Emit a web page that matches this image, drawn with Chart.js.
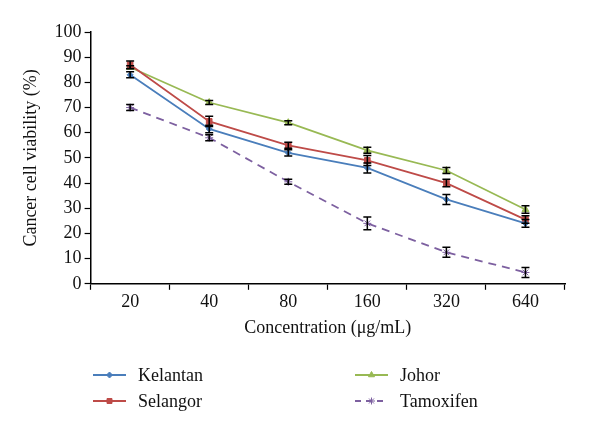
<!DOCTYPE html>
<html>
<head>
<meta charset="utf-8">
<script src="https://cdn.jsdelivr.net/npm/chart.js@4.4.1/dist/chart.umd.min.js"></script>
<style>
  body { margin: 0; background: #fff; }
</style>
</head>
<body>
<canvas id="chart" width="600" height="435"></canvas>
<script>
// Cancer cell viability vs. concentration
const categories = ['20', '40', '80', '160', '320', '640'];

const kelantan  = [83, 61.5, 52, 46, 33.5, 24];
const selangor  = [87, 64.5, 55, 49, 40, 25.5];
const johor     = [86, 72, 64, 53, 45, 29.5];
const tamoxifen = [70, 58, 40.5, 24, 12.5, 4.5];

const kelantanErr  = [1.2, 1.5, 1.2, 2, 2, 1.5];
const selangorErr  = [1.5, 2, 1.2, 2, 1.5, 1.5];
const johorErr     = [0.6, 0.8, 0.8, 1.2, 1.2, 1.5];
const tamoxifenErr = [1.2, 1.2, 1, 2.5, 2, 2];

const yTicks = [0, 10, 20, 30, 40, 50, 60, 70, 80, 90, 100];

const SERIES = [
  { label: 'Kelantan',  data: kelantan,  err: kelantanErr,  color: '#4A7EBB', point: 'rectRot',  radius: 3, dash: [] },
  { label: 'Selangor',  data: selangor,  err: selangorErr,  color: '#BE4B48', point: 'rect',     radius: 4, dash: [] },
  { label: 'Johor',     data: johor,     err: johorErr,     color: '#98B954', point: 'triangle', radius: 4, dash: [] },
  { label: 'Tamoxifen', data: tamoxifen, err: tamoxifenErr, color: '#7D60A0', point: 'star',     radius: 4, dash: [8, 6] },
];

const FONT_FAMILY = '"Liberation Serif", "Times New Roman", serif';
const font = { family: FONT_FAMILY, size: 18 };

// error bars drawn through the scales
const errorBars = {
  id: 'errorBars',
  afterDatasetsDraw(chart) {
    const { ctx, scales: { x, y } } = chart;
    ctx.save();
    ctx.strokeStyle = '#000';
    ctx.lineWidth = 1.5;
    SERIES.forEach(s => {
      s.data.forEach((v, i) => {
        const px = x.getPixelForValue(i);
        const top = y.getPixelForValue(v + s.err[i]);
        const bot = y.getPixelForValue(v - s.err[i]);
        ctx.beginPath();
        ctx.moveTo(px, top); ctx.lineTo(px, bot);
        ctx.moveTo(px - 4, top); ctx.lineTo(px + 4, top);
        ctx.moveTo(px - 4, bot); ctx.lineTo(px + 4, bot);
        ctx.stroke();
      });
    });
    ctx.restore();
  }
};

// two-column legend under the axis title
const colLegend = {
  id: 'colLegend',
  afterDraw(chart) {
    const { ctx } = chart;
    const slots = [[93, 375], [93, 401], [355, 375], [355, 401]];
    ctx.save();
    ctx.font = `18px ${FONT_FAMILY}`;
    ctx.textBaseline = 'middle';
    SERIES.forEach((s, i) => {
      const [lx, ly] = slots[i];
      ctx.strokeStyle = s.color;
      ctx.lineWidth = 1.8;
      ctx.setLineDash(s.dash.length ? [6, 5] : []);
      ctx.beginPath(); ctx.moveTo(lx, ly); ctx.lineTo(lx + 33, ly); ctx.stroke();
      ctx.setLineDash([]);
      ctx.fillStyle = s.color;
      ctx.lineWidth = 1;
      Chart.helpers.drawPoint(ctx, { pointStyle: s.point, radius: s.point === 'rectRot' ? 3 : 3.5, borderWidth: 1 }, lx + 16.5, ly);
      ctx.fillStyle = '#111';
      ctx.fillText(s.label, lx + 45, ly + 1);
    });
    ctx.restore();
  }
};

new Chart(document.getElementById('chart'), {
  type: 'line',
  data: {
    labels: categories,
    datasets: SERIES.map(s => ({
      label: s.label, data: s.data,
      borderColor: s.color, backgroundColor: s.color,
      borderWidth: 1.8, borderDash: s.dash,
      pointStyle: s.point, pointRadius: s.radius, pointBorderWidth: 1,
      tension: 0,
    }))
  },
  options: {
    responsive: false, animation: false,
    layout: { padding: { top: 32, right: 35, left: 16, bottom: 92 } },
    plugins: { legend: { display: false }, tooltip: { enabled: false } },
    scales: {
      x: {
        offset: true,
        grid: { offset: true, drawOnChartArea: false, color: '#000', tickLength: 6, tickWidth: 1.2 },
        border: { color: '#000', width: 1.5 },
        ticks: { color: '#111', font, padding: 2 },
        title: { display: true, text: 'Concentration (μg/mL)', color: '#111', font, padding: { top: 2 } }
      },
      y: {
        min: 0, max: 100,
        afterBuildTicks: ax => { ax.ticks = yTicks.map(v => ({ value: v })); },
        grid: { drawOnChartArea: false, color: '#000', tickLength: 6, tickWidth: 1.2 },
        border: { color: '#000', width: 1.5 },
        ticks: { color: '#111', font, padding: 3 },
        title: { display: true, text: 'Cancer cell viability (%)', color: '#111', font, padding: { bottom: 10 } }
      }
    }
  },
  plugins: [errorBars, colLegend]
});
</script>
</body>
</html>
